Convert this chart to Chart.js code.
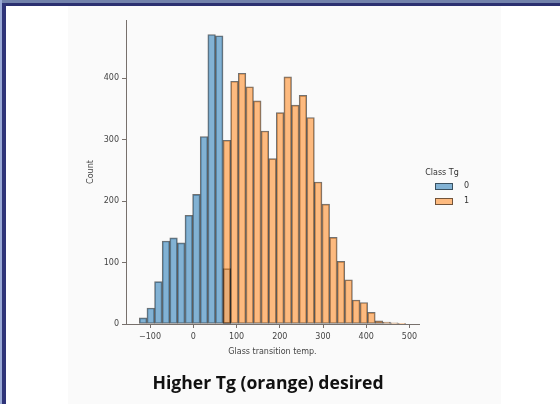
<!DOCTYPE html>
<html>
<head>
<meta charset="utf-8">
<script src="https://cdn.jsdelivr.net/npm/chart.js@4"></script>
<style>
  html, body { margin: 0; padding: 0; background: #ffffff; }
  #wrap { position: relative; width: 560px; height: 404px; overflow: hidden; background: #ffffff; }
  #fig { position: absolute; left: 68px; top: 6px; width: 433px; height: 398px; background: #fafafa; }
  #topStripe { position: absolute; left: 0; top: 0; width: 560px; height: 3px; background: #7282ab; }
  #topBorder { position: absolute; left: 0; top: 3px; width: 560px; height: 3px; background: #2b3070; }
  #leftStripe { position: absolute; left: 0; top: 0; width: 2px; height: 404px; background: #9aaad6; }
  #leftBorder { position: absolute; left: 2px; top: 3px; width: 4px; height: 401px; background: #2f3479; }
  canvas { position: absolute; left: 0; top: 0; }
  #legend { position: absolute; left: 414px; top: 168px; width: 60px; font-family: "DejaVu Sans", sans-serif; font-size: 8px; color: #333; }
  #legend .ttl { text-align: center; width: 56px; line-height: 10px; }
  #legend .row { position: relative; height: 15px; }
  #legend .sw { position: absolute; left: 21px; top: 5px; width: 18px; height: 7px; border: 1px solid rgba(0,0,0,0.55); box-sizing: border-box; }
  #legend .lb { position: absolute; left: 50px; top: 3px; }
  #title { position: absolute; left: 0; width: 536px; top: 370px; text-align: center; font-family: "Open Sans", sans-serif; font-weight: 700; font-size: 17.6px; color: #111; }
</style>
</head>
<body>
<div id="wrap">
  <div id="fig"></div>
  <div id="topStripe"></div>
  <div id="topBorder"></div>
  <div id="leftStripe"></div>
  <div id="leftBorder"></div>
  <canvas id="c" width="560" height="404"></canvas>
  <div id="legend">
    <div class="ttl">Class Tg</div>
    <div class="row"><div class="sw" id="sw0"></div><div class="lb">0</div></div>
    <div class="row"><div class="sw" id="sw1"></div><div class="lb">1</div></div>
  </div>
  <div id="title">Higher Tg (orange) desired</div>
</div>
<script>
// Histogram bin centers (Glass transition temp.)
const binCenters = [-116.0, -98.4, -80.8, -63.2, -45.6, -28.0, -10.4, 7.2, 24.8, 42.4,
  60.0, 77.6, 95.2, 112.8, 130.4, 148.0, 165.6, 183.2, 200.8, 218.4,
  236.0, 253.6, 271.2, 288.8, 306.4, 324.0, 341.6, 359.2, 376.8, 394.4,
  412.0, 429.6, 447.2, 464.8, 482.4];
// Counts for Class Tg = 0
const class0Counts = [10, 26, 69, 135, 140, 132, 177, 211, 305, 471,
  469, 90, 0, 0, 0, 0, 0, 0, 0, 0,
  0, 0, 0, 0, 0, 0, 0, 0, 0, 0,
  0, 0, 0, 0, 0];
// Counts for Class Tg = 1
const class1Counts = [0, 0, 0, 0, 0, 0, 0, 0, 0, 0,
  0, 299, 395, 408, 386, 363, 314, 269, 344, 402,
  356, 372, 336, 231, 195, 141, 102, 72, 39, 35,
  19, 5, 3, 2, 1];
const classLabels = ["0", "1"];
const xTickValues = [-100, 0, 100, 200, 300, 400, 500];
const yTickValues = [0, 100, 200, 300, 400];

const fill0 = "rgba(31,119,180,0.55)";
const fill0Under = "rgba(31,119,180,0.18)";
const fill1 = "rgba(255,127,14,0.52)";
const edge = "rgba(0,0,0,0.55)";
document.getElementById("sw0").style.background = fill0;
document.getElementById("sw1").style.background = fill1;

function toPoints(counts) {
  const pts = [];
  counts.forEach((v, i) => { if (v > 0) pts.push({ x: binCenters[i], y: v, i: i }); });
  return pts;
}

const tickFont = { family: "DejaVu Sans", size: 8 };
const axisColor = "#77706c";

new Chart(document.getElementById("c"), {
  type: "bar",
  data: {
    datasets: [
      { label: classLabels[1], data: toPoints(class1Counts), backgroundColor: fill1, borderColor: edge, borderWidth: 1, borderSkipped: false, order: 1 },
      { label: classLabels[0], data: toPoints(class0Counts),
        backgroundColor: (ctx) => { const p = ctx.raw; return (p && class1Counts[p.i] > 0) ? fill0Under : fill0; },
        borderColor: edge, borderWidth: 1, borderSkipped: false, order: 2 }
    ]
  },
  options: {
    responsive: false,
    animation: false,
    grouped: false,
    barPercentage: 1,
    categoryPercentage: 1,
    layout: { padding: { left: 82, right: 141, top: 20, bottom: 44 } },
    plugins: { legend: { display: false }, tooltip: { enabled: false } },
    scales: {
      x: {
        type: "linear",
        offset: false,
        min: -155.6,
        max: 522,
        afterBuildTicks: (s) => { s.ticks = xTickValues.map(v => ({ value: v })); },
        afterFit: (s) => { s.height = 36; },
        ticks: { font: tickFont, color: "#444", padding: 4, maxRotation: 0, callback: (v) => v < 0 ? "\u2212" + Math.abs(v) : String(v) },
        grid: { display: true, offset: false, drawOnChartArea: false, drawTicks: true, tickLength: 4, tickColor: axisColor, lineWidth: 1 },
        border: { display: true, color: axisColor, width: 1 },
        title: { display: true, text: "Glass transition temp.", font: { family: "DejaVu Sans", size: 8 }, color: "#444", padding: { top: 2, bottom: 3 } }
      },
      y: {
        type: "linear",
        min: 0,
        max: 494.6,
        afterBuildTicks: (s) => { s.ticks = yTickValues.map(v => ({ value: v })); },
        afterFit: (s) => { s.width = 44; },
        ticks: { font: tickFont, color: "#444", padding: 3 },
        grid: { display: true, drawOnChartArea: false, drawTicks: true, tickLength: 4, tickColor: axisColor, lineWidth: 1 },
        border: { display: true, color: axisColor, width: 1 },
        title: { display: true, text: "Count", font: { family: "DejaVu Sans", size: 8 }, color: "#444", padding: { top: 4, bottom: 4 } }
      }
    }
  }
});
</script>
</body>
</html>
